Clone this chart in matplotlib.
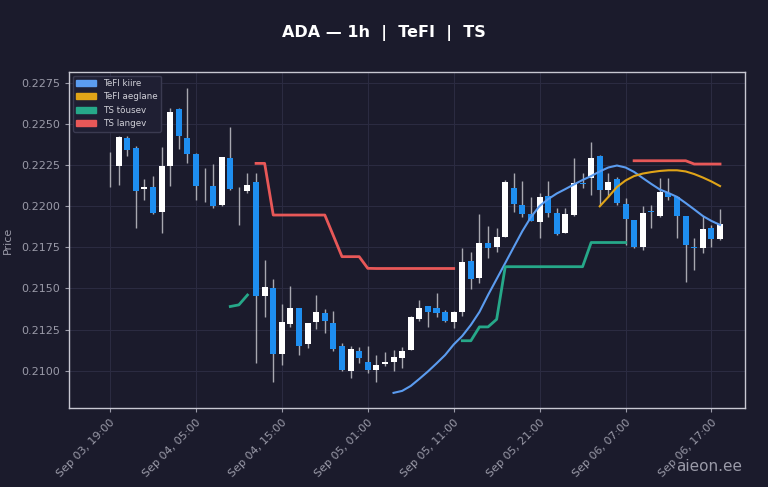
import numpy as np
import pandas as pd
import matplotlib
matplotlib.use('Agg')
import matplotlib.pyplot as plt
import matplotlib.dates as mdates
from matplotlib.patches import Patch

# hourly candles, Sep 03 19:00 -> Sep 06 18:00
times = pd.date_range('2024-09-03 19:00', periods=72, freq='h')

opens = [0.22270, 0.22244, 0.22416, 0.22352, 0.22102, 0.22115, 0.21966, 0.22244, 0.22590, 0.22412,
         0.22317, 0.22113, 0.22124, 0.22004, 0.22294, 0.22106, 0.22092, 0.22145, 0.21456, 0.21504,
         0.21101, 0.21282, 0.21379, 0.21162, 0.21298, 0.21352, 0.21288, 0.21150, 0.21000, 0.21118,
         0.21051, 0.21004, 0.21041, 0.21051, 0.21075, 0.21126, 0.21312, 0.21393, 0.21383, 0.21355,
         0.21294, 0.21359, 0.21667, 0.21562, 0.21778, 0.21750, 0.21814, 0.22108, 0.22007, 0.21952,
         0.21906, 0.22062, 0.21960, 0.21835, 0.21946, 0.22141, 0.22169, 0.22305, 0.22098, 0.22165,
         0.22013, 0.21916, 0.21754, 0.21969, 0.21940, 0.22078, 0.22057, 0.21940, 0.21753, 0.21744,
         0.21865, 0.21799]
highs = [0.22331, 0.22426, 0.22428, 0.22367, 0.22165, 0.22183, 0.22358, 0.22596, 0.22595, 0.22716,
         0.22323, 0.22230, 0.22254, 0.22299, 0.22481, 0.22118, 0.22200, 0.22200, 0.21673, 0.21555,
         0.21404, 0.21515, 0.21381, 0.21292, 0.21460, 0.21377, 0.21363, 0.21170, 0.21150, 0.21146,
         0.21150, 0.21095, 0.21112, 0.21126, 0.21142, 0.21332, 0.21430, 0.21396, 0.21474, 0.21369,
         0.21363, 0.21744, 0.21720, 0.21950, 0.21879, 0.21869, 0.22159, 0.22200, 0.22155, 0.22057,
         0.22082, 0.22155, 0.21987, 0.21987, 0.22291, 0.22200, 0.22392, 0.22311, 0.22200, 0.22179,
         0.22048, 0.21916, 0.22001, 0.22007, 0.22169, 0.22169, 0.22059, 0.21943, 0.21805, 0.21940,
         0.21885, 0.21981]
lows = [0.22118, 0.22129, 0.22307, 0.21869, 0.22037, 0.21952, 0.21835, 0.22125, 0.22345, 0.22264,
        0.22037, 0.22027, 0.21987, 0.21998, 0.22098, 0.21885, 0.22078, 0.21045, 0.21328, 0.20933,
        0.21035, 0.21267, 0.21095, 0.21136, 0.21253, 0.21227, 0.21122, 0.21000, 0.20954, 0.21045,
        0.20986, 0.20930, 0.21029, 0.21000, 0.21015, 0.21123, 0.21302, 0.21264, 0.21328, 0.21298,
        0.21258, 0.21334, 0.21495, 0.21531, 0.21683, 0.21723, 0.21812, 0.21966, 0.21932, 0.21910,
        0.21805, 0.21936, 0.21825, 0.21834, 0.21943, 0.22108, 0.22068, 0.22007, 0.22057, 0.22007,
        0.21764, 0.21744, 0.21733, 0.21865, 0.21937, 0.22037, 0.21805, 0.21541, 0.21612, 0.21713,
        0.21754, 0.21794]
closes = [0.22266, 0.22422, 0.22341, 0.22094, 0.22118, 0.21957, 0.22246, 0.22574, 0.22426, 0.22315,
          0.22122, 0.22108, 0.22001, 0.22296, 0.22102, 0.22102, 0.22129, 0.21456, 0.21510, 0.21101,
          0.21294, 0.21381, 0.21150, 0.21292, 0.21357, 0.21302, 0.21132, 0.21004, 0.21130, 0.21079,
          0.21002, 0.21035, 0.21051, 0.21081, 0.21120, 0.21328, 0.21383, 0.21359, 0.21349, 0.21302,
          0.21359, 0.21661, 0.21555, 0.21778, 0.21744, 0.21811, 0.22149, 0.22013, 0.21952, 0.21912,
          0.22057, 0.21957, 0.21831, 0.21950, 0.22139, 0.22137, 0.22291, 0.22098, 0.22149, 0.22022,
          0.21920, 0.21754, 0.21960, 0.21964, 0.22088, 0.22057, 0.21940, 0.21764, 0.21747, 0.21859,
          0.21799, 0.21892]

N = None
tefi_fast = [N] * 33 + [
    0.20865, 0.20877, 0.20907, 0.20950, 0.20995, 0.21044, 0.21095, 0.21159, 0.21211, 0.21278,
    0.21357, 0.21460, 0.21557, 0.21654, 0.21752, 0.21849, 0.21934, 0.22001, 0.22043, 0.22077,
    0.22104, 0.22132, 0.22159, 0.22183, 0.22211, 0.22235, 0.22247, 0.22235, 0.22208, 0.22171,
    0.22135, 0.22101, 0.22080, 0.22056, 0.22019, 0.21980, 0.21940, 0.21910, 0.21886]
tefi_slow = [N] * 57 + [
    0.21999, 0.22056, 0.22116, 0.22156, 0.22183, 0.22198, 0.22207, 0.22214, 0.22218, 0.22218,
    0.22211, 0.22195, 0.22174, 0.22150, 0.22122]
ts_up = [N] * 14 + [0.21390, 0.21400, 0.21460] + [N] * 24 + [
    0.21182, 0.21182, 0.21266, 0.21266, 0.21312, 0.21632, 0.21632, 0.21632, 0.21632, 0.21632,
    0.21632, 0.21632, 0.21632, 0.21632, 0.21632, 0.21779, 0.21779, 0.21779, 0.21779, 0.21779] + [N] * 11
ts_down = [N] * 17 + [
    0.22260, 0.22260, 0.21946, 0.21946, 0.21946, 0.21946, 0.21946, 0.21946, 0.21946, 0.21820,
    0.21693, 0.21693, 0.21693, 0.21622, 0.21621, 0.21621, 0.21621, 0.21621, 0.21621, 0.21621,
    0.21621, 0.21621, 0.21621, 0.21621] + [N] * 20 + [
    0.22276, 0.22276, 0.22276, 0.22276, 0.22276, 0.22276, 0.22276, 0.22256, 0.22256, 0.22256, 0.22256]

BG = '#1b1b2c'
FAST = '#5b9cf0'
SLOW = '#e0a418'
UPC = '#26a889'
DNC = '#e85858'

o = np.array(opens); h = np.array(highs); l = np.array(lows); c = np.array(closes)
x = mdates.date2num(times.to_pydatetime())
w = 0.7 / 24

fig = plt.figure(figsize=(7.68, 4.87), dpi=100, facecolor=BG)
ax = fig.add_axes([0.0902, 0.1622, 0.8798, 0.6898], facecolor=BG)

ax.vlines(x, l, h, color='#a8a8b0', linewidth=1, zorder=2)
up = c >= o
body_bot = np.minimum(o, c)
body_h = np.maximum(np.abs(c - o), 0.00003)
ax.bar(x[up], body_h[up], bottom=body_bot[up], width=w, color='white', zorder=3)
ax.bar(x[~up], body_h[~up], bottom=body_bot[~up], width=w, color='#1e8ef0', zorder=3)

def arr(v):
    return np.array([np.nan if q is None else q for q in v], dtype=float)

ax.plot(x, arr(tefi_fast), color=FAST, lw=1.5, zorder=4)
ax.plot(x, arr(tefi_slow), color=SLOW, lw=1.5, zorder=4)
ax.plot(x, arr(ts_up), color=UPC, lw=2, zorder=4)
ax.plot(x, arr(ts_down), color=DNC, lw=2, zorder=4)

t0 = x[0]
ax.set_xlim(t0 - 4.74 / 24, t0 + 73.9 / 24)
ax.set_ylim(0.20773, 0.22815)
ax.set_yticks(np.arange(0.21, 0.2276, 0.0025))
ax.yaxis.set_major_formatter(plt.FuncFormatter(lambda v, p: f'{v:.4f}'))
ax.set_xticks(x[::10])
ax.set_xticklabels([t.strftime('%b %d, %H:%M') for t in times[::10]],
                   rotation=45, ha='right', rotation_mode='anchor')

ax.tick_params(colors='#9a9aa8', labelsize=8, length=3)
for s in ax.spines.values():
    s.set_color('#c8c8d2')
    s.set_linewidth(1)
ax.grid(True, color='#2c2c42', linewidth=0.7)
ax.set_axisbelow(True)
ax.set_ylabel('Price', color='#9a9aa8', fontsize=8)
ax.yaxis.set_label_coords(-0.083, 0.5)

fig.text(0.5, 0.932, 'ADA — 1h  |  TeFI  |  TS', color='white', fontsize=11.5,
         fontweight='bold', ha='center', va='center')

handles = [Patch(color=FAST, label='TeFI kiire'), Patch(color=SLOW, label='TeFI aeglane'),
           Patch(color=UPC, label='TS tõusev'), Patch(color=DNC, label='TS langev')]
leg = ax.legend(handles=handles, loc='upper left', fontsize=6.3, facecolor='#1f1f33',
                edgecolor='#3a3a50', labelcolor='#d0d0d8', framealpha=1,
                handlelength=2.2, borderaxespad=0.4)

fig.text(0.966, 0.043, 'aieon.ee', color='#9a9aa8', fontsize=11, ha='right', va='center')

fig.savefig('out.png', dpi=100, facecolor=BG)
